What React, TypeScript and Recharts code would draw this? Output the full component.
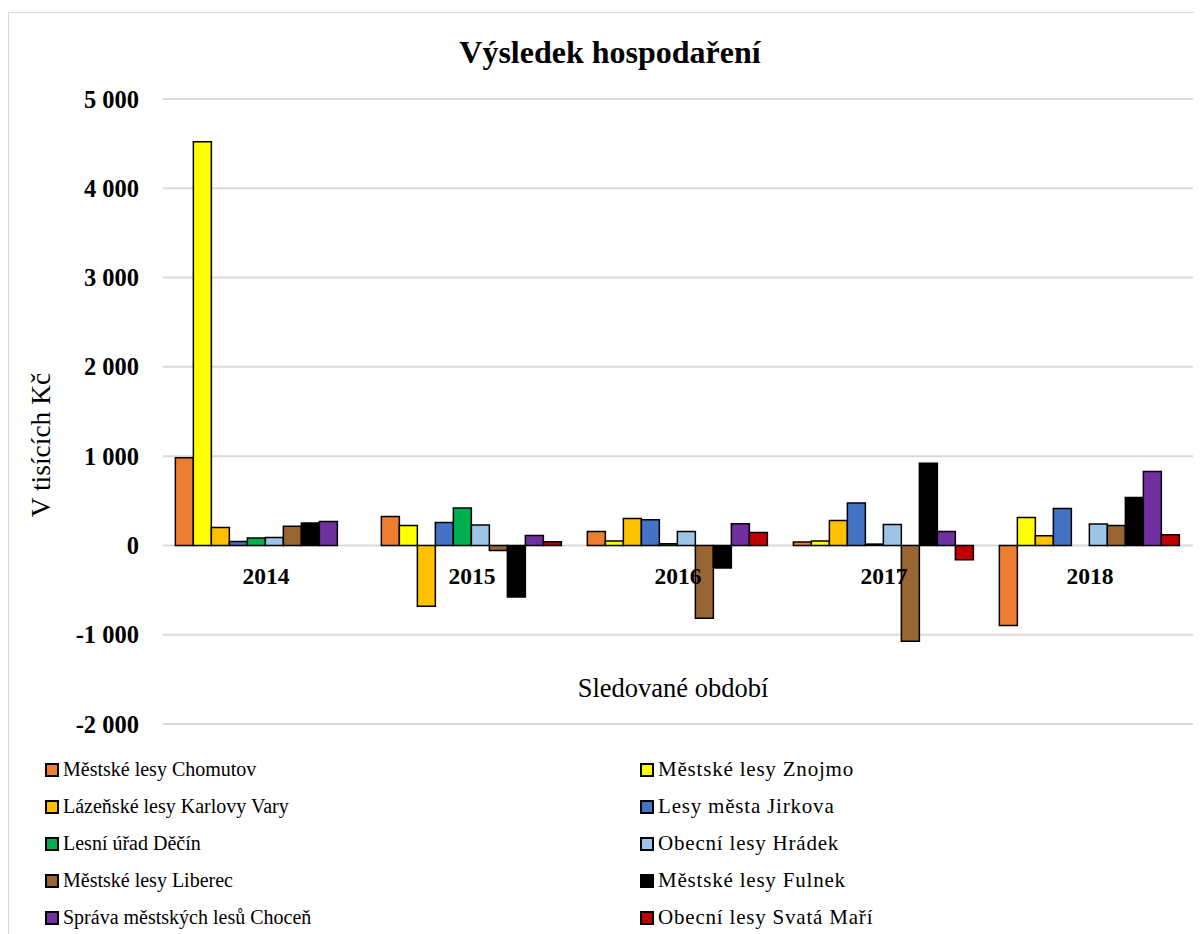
import { BarChart, Bar, XAxis, YAxis, CartesianGrid } from "recharts";

const years = ["2014", "2015", "2016", "2017", "2018"];

const chomutov = [983, 324, 156, 38, -897];
const znojmo = [4520, 224, 49, 49, 313];
const karlovyVary = [200, -680, 302, 279, 108];
const jirkov = [45, 257, 287, 474, 413];
const decin = [82, 418, 20, 15, 0];
const hradek = [89, 228, 156, 235, 239];
const liberec = [216, -56, -815, -1073, 224];
const fulnek = [250, -577, -253, 921, 536];
const chocen = [268, 112, 243, 156, 827];
const svataMari = [0, 41, 145, -160, 120];

const yTicks = [-2000, -1000, 0, 1000, 2000, 3000, 4000, 5000];

const series = [
  { key: "chomutov", name: "Městské lesy Chomutov", color: "#ED7D31", values: chomutov },
  { key: "znojmo", name: "Městské lesy Znojmo", color: "#FFFF00", values: znojmo },
  { key: "karlovyVary", name: "Lázeňské lesy Karlovy Vary", color: "#FFC000", values: karlovyVary },
  { key: "jirkov", name: "Lesy města Jirkova", color: "#4472C4", values: jirkov },
  { key: "decin", name: "Lesní úřad Děčín", color: "#00B050", values: decin },
  { key: "hradek", name: "Obecní lesy Hrádek", color: "#9DC3E6", values: hradek },
  { key: "liberec", name: "Městské lesy Liberec", color: "#996633", values: liberec },
  { key: "fulnek", name: "Městské lesy Fulnek", color: "#000000", values: fulnek },
  { key: "chocen", name: "Správa městských lesů Choceň", color: "#7030A0", values: chocen },
  { key: "svataMari", name: "Obecní lesy Svatá Maří", color: "#C00000", values: svataMari },
];

const data = years.map((year, i) => {
  const row: Record<string, string | number> = { year };
  series.forEach((s) => (row[s.key] = s.values[i]));
  return row;
});

const FONT = '"Liberation Serif", "Times New Roman", serif';
const CHART_W = 1194;
const CHART_H = 740;
const MARGIN = { top: 86, right: 10, left: 0, bottom: 9 };
const X_AXIS_H = 20;
const Y_MIN = -2000;
const Y_MAX = 5000;
const PLOT_H = CHART_H - MARGIN.top - MARGIN.bottom - X_AXIS_H;
const ZERO_Y = MARGIN.top + (PLOT_H * Y_MAX) / (Y_MAX - Y_MIN);

const fmt = (v: number) => {
  const abs = Math.abs(v);
  const s = abs >= 1000 ? `${Math.floor(abs / 1000)} ${String(abs % 1000).padStart(3, "0")}` : String(abs);
  return v < 0 ? `-${s}` : s;
};

function YearTick({ x, payload }: any) {
  return (
    <text
      x={x}
      y={ZERO_Y + 31}
      textAnchor="middle"
      dominantBaseline="central"
      fontFamily={FONT}
      fontWeight="bold"
      fontSize={23.5}
      fill="#000"
    >
      {payload.value}
    </text>
  );
}

function YTickLabel({ x, y, payload }: any) {
  return (
    <text x={x} y={y} textAnchor="end" dominantBaseline="central" fontFamily={FONT} fontWeight="bold" fontSize={24.5} fill="#000">
      {fmt(payload.value)}
    </text>
  );
}

export default function App() {
  return (
    <div
      style={{
        position: "relative",
        marginTop: 4,
        width: 1196,
        height: 930,
        borderLeft: "1px solid #d9d9d9",
        borderTop: "1px solid #d9d9d9",
        background: "#fff",
        fontFamily: FONT,
      }}
    >
      <div
        style={{
          position: "absolute",
          top: 21,
          left: 0,
          width: 1202,
          textAlign: "center",
          fontWeight: "bold",
          fontSize: 32,
          lineHeight: "36px",
        }}
      >
        Výsledek hospodaření
      </div>
      <BarChart width={CHART_W} height={CHART_H} data={data} margin={MARGIN} barCategoryGap="6%" barGap={0}>
        <CartesianGrid vertical={false} stroke="#d9d9d9" strokeWidth={2} />
        <XAxis
          dataKey="year"
          height={X_AXIS_H}
          axisLine={false}
          tickLine={false}
          tick={<YearTick />}
          label={{
            content: () => (
              <text x={664} y={675} textAnchor="middle" dominantBaseline="central" fontFamily={FONT} fontSize={26.5} fill="#000">
                Sledované období
              </text>
            ),
          }}
        />
        <YAxis
          width={154}
          domain={[Y_MIN, Y_MAX]}
          ticks={yTicks}
          interval={0}
          axisLine={false}
          tickLine={false}
          tickMargin={18}
          tick={<YTickLabel />}
          label={{
            content: () => (
              <text
                x={31}
                y={432}
                transform="rotate(-90 31 432)"
                textAnchor="middle"
                dominantBaseline="central"
                fontFamily={FONT}
                fontSize={27.5}
                fill="#000"
              >
                V tisících Kč
              </text>
            ),
          }}
        />
        {series.map((s) => (
          <Bar
            key={s.key}
            dataKey={s.key}
            name={s.name}
            fill={s.color}
            stroke="#000"
            strokeWidth={1.5}
            isAnimationActive={false}
          />
        ))}
      </BarChart>
      <div
        style={{
          position: "absolute",
          top: 738,
          left: 36,
          display: "grid",
          gridTemplateColumns: "595px 500px",
          rowGap: 0,
        }}
      >
        {series.map((s, i) => {
          const right = i % 2 === 1;
          return (
            <div
              key={s.key}
              style={{
                display: "flex",
                alignItems: "center",
                height: 37,
                fontSize: right ? 21 : 20,
                letterSpacing: right ? 0.8 : 0,
              }}
            >
              <span
                style={{
                  display: "inline-block",
                  width: 10,
                  height: 10,
                  border: "2px solid #000",
                  background: s.color,
                  marginRight: 4,
                }}
              />
              <span>{s.name}</span>
            </div>
          );
        })}
      </div>
    </div>
  );
}
